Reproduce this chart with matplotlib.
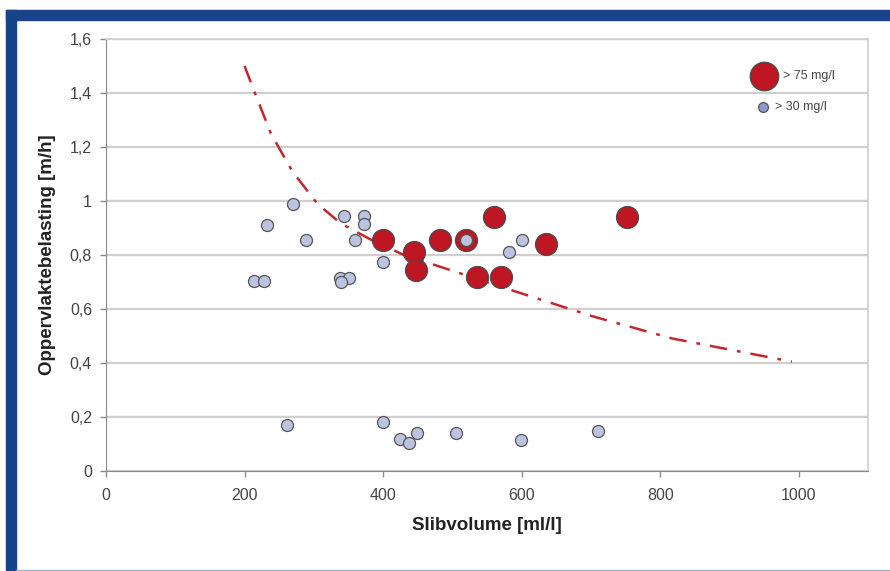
import matplotlib
matplotlib.use("Agg")
import matplotlib.pyplot as plt
from matplotlib.patches import Rectangle
from matplotlib.ticker import FuncFormatter

plt.rcParams['font.family'] = ['Liberation Sans', 'DejaVu Sans']

# DATA
blue_x = [270, 232, 289, 343, 372, 373, 360, 400, 213, 228, 338, 351, 339,
          519, 582, 601, 261, 400, 424, 437, 449, 505, 599, 710]
blue_y = [0.99, 0.91, 0.855, 0.945, 0.945, 0.915, 0.855, 0.775, 0.705, 0.705,
          0.715, 0.715, 0.70, 0.855, 0.81, 0.855, 0.17, 0.18, 0.12, 0.105,
          0.14, 0.14, 0.115, 0.15]

red_x = [400, 445, 447, 482, 520, 560, 535, 570, 635, 752]
red_y = [0.855, 0.81, 0.745, 0.855, 0.855, 0.94, 0.72, 0.72, 0.84, 0.94]

curve_x = [200, 215, 238, 269, 305, 339, 383, 430, 489, 585, 701, 817, 990]
curve_y = [1.50, 1.40, 1.25, 1.11, 0.99, 0.917, 0.856, 0.80, 0.751, 0.670,
           0.574, 0.491, 0.405]

x_ticks = [0, 200, 400, 600, 800, 1000]
y_ticks = [0, 0.2, 0.4, 0.6, 0.8, 1.0, 1.2, 1.4, 1.6]

RED = '#BE1622'
BLUE = '#BCC3E0'
FRAME = '#17438A'

fig = plt.figure(figsize=(8.9, 5.71), dpi=100)
W, H = 890, 571

# blue frame round the chart
fig.patches.append(Rectangle((6 / W, 1 - 20 / H), 1 - 6 / W, 10 / H,
                             transform=fig.transFigure, color=FRAME, zorder=0))
fig.patches.append(Rectangle((6 / W, 0), 10 / W, 1 - 10 / H,
                             transform=fig.transFigure, color=FRAME, zorder=0))
fig.patches.append(Rectangle((16 / W, 0), 1 - 16 / W, 1.5 / H,
                             transform=fig.transFigure, color='#9DB3D6', zorder=0))

ax = fig.add_axes([106 / W, 1 - 471 / H, 762 / W, 432 / H])

ax.plot(curve_x, curve_y, color='#C0282D', lw=1.8,
        linestyle=(0, (7, 4, 1.5, 4)), zorder=2)
ax.scatter(red_x, red_y, s=250, color=RED, edgecolors='#4a4a4a',
           linewidths=0.9, zorder=3)
ax.scatter(blue_x, blue_y, s=75, color=BLUE, edgecolors='#555555',
           linewidths=0.9, zorder=4)

# legend
ax.scatter([0.863], [0.914], s=420, color=RED, edgecolors='#4a4a4a',
           linewidths=0.9, transform=ax.transAxes, zorder=5, clip_on=False)
ax.text(0.889, 0.914, '> 75 mg/l', transform=ax.transAxes, fontsize=9,
        color='#444444', va='center')
ax.scatter([0.862], [0.843], s=50, color='#8E9BCF', edgecolors='#555555',
           linewidths=0.9, transform=ax.transAxes, zorder=5, clip_on=False)
ax.text(0.878, 0.843, '> 30 mg/l', transform=ax.transAxes, fontsize=9,
        color='#444444', va='center')

ax.set_xlim(0, 1100)
ax.set_ylim(0, 1.6)
ax.set_xticks(x_ticks)
ax.set_yticks(y_ticks)
ax.yaxis.set_major_formatter(FuncFormatter(lambda v, p: ('%g' % v).replace('.', ',')))
ax.grid(axis='y', color='#cfcfcf', lw=1.6)
ax.set_axisbelow(True)

for s in ['top', 'right']:
    ax.spines[s].set_color('#cfcfcf')
    ax.spines[s].set_linewidth(1.2)
ax.spines['left'].set_color('#8a8a8a')
ax.spines['bottom'].set_color('#8a8a8a')
ax.tick_params(colors='#8a8a8a', labelcolor='#444444', labelsize=11.5,
               length=4, width=1)
ax.tick_params(axis='y', pad=6)
ax.tick_params(axis='x', pad=8)

ax.set_xlabel('Slibvolume [ml/l]', fontsize=13.5, fontweight='bold',
              color='#222222', labelpad=10)
ax.set_ylabel('Oppervlaktebelasting [m/h]', fontsize=13.5, fontweight='bold',
              color='#222222', labelpad=10)

fig.savefig('out.png', dpi=100)
